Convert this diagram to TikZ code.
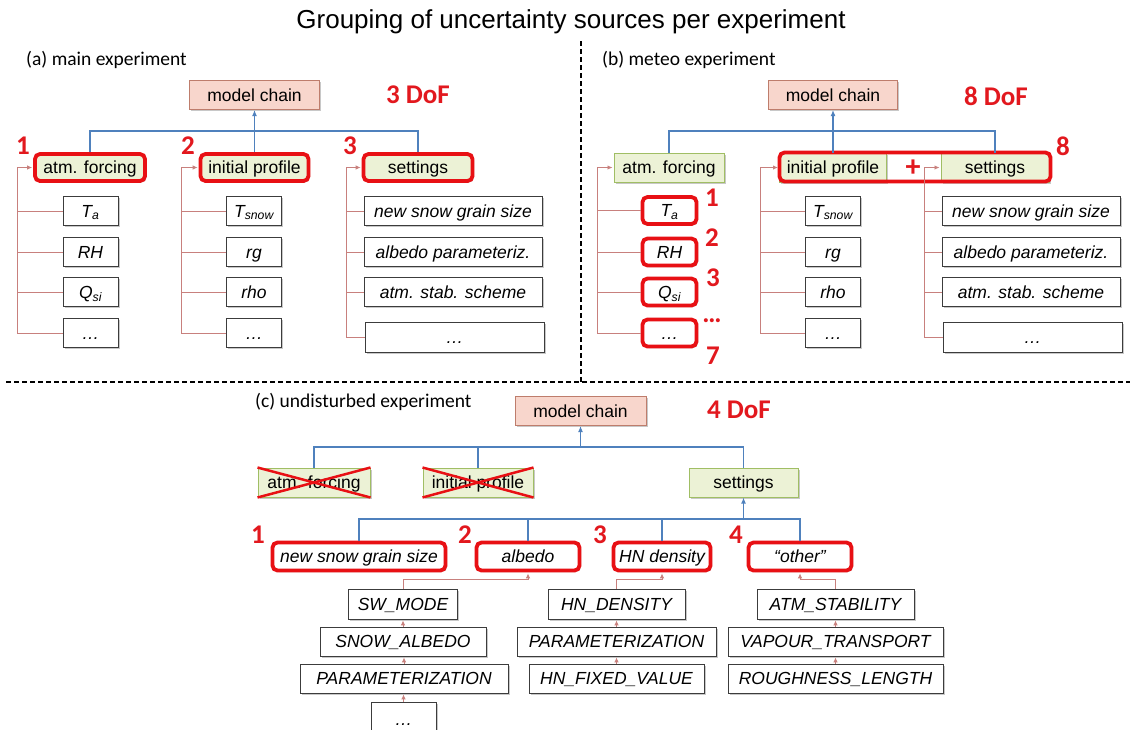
\documentclass[tikz,border=0pt]{standalone}
\usepackage{fontspec}
\setmainfont{Liberation Sans}
\newfontfamily\calib{Carlito}
\usetikzlibrary{arrows.meta,shadows}
\definecolor{hlred}{RGB}{232,16,20}
\definecolor{numred}{RGB}{226,24,30}
\definecolor{gfill}{RGB}{236,242,214}
\definecolor{gdraw}{RGB}{160,190,100}
\definecolor{mfill}{RGB}{248,214,204}
\definecolor{mdraw}{RGB}{190,125,108}
\definecolor{conncol}{RGB}{200,128,125}
\definecolor{buscol}{RGB}{79,129,189}
\definecolor{boxdraw}{RGB}{60,60,60}
\begin{document}
\begin{tikzpicture}[x=1pt,y=-1pt,
  font=\fontsize{17.5}{20}\selectfont,
  shad/.style={drop shadow={shadow xshift=1.5pt,shadow yshift=-1.5pt,opacity=0.3,fill=black!70}},
  basebox/.style={inner sep=0pt, minimum height=29pt, anchor=center, text height=12.5pt, text depth=0pt, shad},
  wbox/.style={basebox, fill=white, draw=boxdraw, line width=0.8pt, font=\fontsize{17.5}{20}\selectfont\itshape},
  gbox/.style={basebox, fill=gfill, draw=gdraw, line width=1pt},
  mbox/.style={basebox, fill=mfill, draw=mdraw, line width=1pt},
  hl/.style={draw=hlred, line width=3.8pt, rounded corners=5pt, minimum height=27pt},
  num/.style={font=\calib\bfseries\fontsize{27}{30}\selectfont, text=numred, inner sep=0pt},
  plab/.style={font=\calib\fontsize{19.5}{22}\selectfont, anchor=west, inner sep=0pt},
  conn/.style={draw=conncol, line width=0.9pt},
  carr/.style={conn, -{Latex[length=5pt,width=4.5pt]}, shorten >=1pt},
  bus/.style={draw=buscol, line width=1.4pt},
  barr/.style={bus, -{Latex[length=6pt,width=5pt]}},
  xline/.style={draw=hlred, line width=2.5pt},
  sep/.style={draw=black, line width=1.3pt, dash pattern=on 5pt off 3pt},
]
\clip (0,0) rectangle (1130,729);
\fill[white] (0,0) rectangle (1130,729);

% title and separators
\node[font=\fontsize{26}{30}\selectfont, inner sep=0pt] (title) at (571,22) {Grouping of uncertainty sources per experiment};
\coordinate (vT) at (581,41);
\coordinate (vB) at (581,382);
\coordinate (hL) at (6,382);
\coordinate (hR) at (1130,382);
\draw[sep] (vT) -- (vB);
\draw[sep] (hL) -- (hR);

\node[plab] (labA) at (26,60) {(a) main experiment};
\node[plab] (labB) at (602,60) {(b) meteo experiment};
\node[plab] (labC) at (255,402) {(c) undisturbed experiment};

% ================= (a) =================
\node[mbox, minimum width=130pt] (mcA) at (254.5,95) {model chain};
\node[num] (dofA) at (418,95) {3 DoF};
\node[gbox, hl, minimum width=110pt] (afA) at (90,167.5) {atm. forcing};
\node[gbox, hl, minimum width=108pt] (ipA) at (254.5,167.5) {initial profile};
\node[gbox, hl, minimum width=109pt] (stA) at (418,167.5) {settings};
\node[num] (nA1) at (23,146) {1};
\node[num] (nA2) at (188,146) {2};
\node[num] (nA3) at (350,146) {3};
\coordinate (busA) at (254.5,131);
\draw[bus] (afA.north) |- (busA) -| (stA.north);
\draw[bus] (ipA.north) -- (busA);
\draw[barr] (busA) -- (mcA.south);

\node[wbox, minimum width=55pt] (a11) at (90.5,211) {T\textsubscript{a}};
\node[wbox, minimum width=55pt] (a12) at (90.5,252) {RH};
\node[wbox, minimum width=55pt] (a13) at (90.5,292) {Q\textsubscript{si}};
\node[wbox, minimum width=55pt] (a14) at (90.5,333) {…};
\coordinate (spA1) at (17,167.5);
\draw[carr] (a14.west) -| (spA1) -- (afA.west);
\draw[conn] (a11.west) -- (a11.west -| spA1);
\draw[conn] (a12.west) -- (a12.west -| spA1);
\draw[conn] (a13.west) -- (a13.west -| spA1);

\node[wbox, minimum width=55pt] (a21) at (254,211) {T\textsubscript{snow}};
\node[wbox, minimum width=55pt] (a22) at (254,252) {rg};
\node[wbox, minimum width=55pt] (a23) at (254,292) {rho};
\node[wbox, minimum width=55pt] (a24) at (254,333) {…};
\coordinate (spA2) at (181,167.5);
\draw[carr] (a24.west) -| (spA2) -- (ipA.west);
\draw[conn] (a21.west) -- (a21.west -| spA2);
\draw[conn] (a22.west) -- (a22.west -| spA2);
\draw[conn] (a23.west) -- (a23.west -| spA2);

\node[wbox, minimum width=178pt] (a31) at (453,211) {new snow grain size};
\node[wbox, minimum width=178pt] (a32) at (453,252) {albedo parameteriz.};
\node[wbox, minimum width=178pt] (a33) at (453,292) {atm. stab. scheme};
\node[wbox, minimum width=179pt, minimum height=30pt] (a34) at (454.5,337) {…};
\coordinate (spA3) at (346,167.5);
\draw[carr] (a34.west) -| (spA3) -- (stA.west);
\draw[conn] (a31.west) -- (a31.west -| spA3);
\draw[conn] (a32.west) -- (a32.west -| spA3);
\draw[conn] (a33.west) -- (a33.west -| spA3);

% ================= (b) =================
\node[mbox, minimum width=129pt] (mcB) at (833,95) {model chain};
\node[num] (dofB) at (996,96) {8 DoF};
\node[gbox, minimum width=110pt] (afB) at (669,167.5) {atm. forcing};
\node[gbox, minimum width=107pt] (ipB) at (833,167.5) {initial profile};
\node[gbox, minimum width=108pt] (stB) at (995,167.5) {settings};
\node[hl, inner sep=0pt, minimum width=271pt, minimum height=29pt] (hlB) at (915,167) {};
\node[num, font=\calib\bfseries\fontsize{30}{30}\selectfont] (plusB) at (913,168) {+};
\node[num] (nB8) at (1063,146) {8};
\coordinate (busB) at (833,131);
\draw[bus] (afB.north) |- (busB) -| (stB.north);
\draw[bus] (ipB.north) -- (busB);
\draw[barr] (busB) -- (mcB.south);

\node[wbox, hl, minimum width=54pt] (b11) at (669.5,210.5) {T\textsubscript{a}};
\node[wbox, hl, minimum width=54pt] (b12) at (669.5,252) {RH};
\node[wbox, hl, minimum width=54pt] (b13) at (669.5,292) {Q\textsubscript{si}};
\node[wbox, hl, minimum width=54pt] (b14) at (669.5,333) {…};
\node[num] (nB1) at (712,198) {1};
\node[num] (nB2) at (712,238) {2};
\node[num] (nB3) at (713,278) {3};
\node[num] (nBd) at (712,321) {…};
\node[num] (nB7) at (713,356) {7};
\coordinate (spB1) at (597,167.5);
\draw[carr] (b14.west) -| (spB1) -- (afB.west);
\draw[conn] (b11.west) -- (b11.west -| spB1);
\draw[conn] (b12.west) -- (b12.west -| spB1);
\draw[conn] (b13.west) -- (b13.west -| spB1);

\node[wbox, minimum width=55pt] (b21) at (833,211) {T\textsubscript{snow}};
\node[wbox, minimum width=55pt] (b22) at (833,252) {rg};
\node[wbox, minimum width=55pt] (b23) at (833,292) {rho};
\node[wbox, minimum width=55pt] (b24) at (833,333) {…};
\coordinate (spB2) at (760,167.5);
\draw[carr] (b24.west) -| (spB2) -- (ipB.west);
\draw[conn] (b21.west) -- (b21.west -| spB2);
\draw[conn] (b22.west) -- (b22.west -| spB2);
\draw[conn] (b23.west) -- (b23.west -| spB2);

\node[wbox, minimum width=178pt] (b31) at (1031,211) {new snow grain size};
\node[wbox, minimum width=178pt] (b32) at (1031,252) {albedo parameteriz.};
\node[wbox, minimum width=178pt] (b33) at (1031,292) {atm. stab. scheme};
\node[wbox, minimum width=179pt, minimum height=30pt] (b34) at (1032.5,337) {…};
\coordinate (spB3) at (924,167.5);
\draw[carr] (b34.west) -| (spB3) -- (stB.west);
\draw[conn] (b31.west) -- (b31.west -| spB3);
\draw[conn] (b32.west) -- (b32.west -| spB3);
\draw[conn] (b33.west) -- (b33.west -| spB3);

% ================= (c) =================
\node[mbox, minimum width=131pt] (mcC) at (580.5,411) {model chain};
\node[num] (dofC) at (739,410) {4 DoF};
\node[gbox, minimum width=112pt] (afC) at (314,482.5) {atm. forcing};
\node[gbox, minimum width=110pt] (ipC) at (478,482.5) {initial profile};
\node[gbox, minimum width=109pt] (stC) at (743.5,482.5) {settings};
\draw[xline] (afC.north west) -- (afC.south east);
\draw[xline] (afC.south west) -- (afC.north east);
\draw[xline] (ipC.north west) -- (ipC.south east);
\draw[xline] (ipC.south west) -- (ipC.north east);
\coordinate (busC) at (580.5,447);
\draw[bus] (afC.north) |- (busC) -| (stC.north);
\draw[bus] (ipC.north) -- (ipC.north |- busC);
\draw[barr] (busC) -- (mcC.south);

\node[wbox, hl, minimum width=173pt, minimum height=28pt] (nsC) at (359,556.5) {new snow grain size};
\node[wbox, hl, minimum width=103pt, minimum height=28pt] (alC) at (528,556.5) {albedo};
\node[wbox, hl, minimum width=97pt, minimum height=28pt] (hnC) at (662,556.5) {HN density};
\node[wbox, hl, minimum width=103pt, minimum height=28pt] (otC) at (800,556.5) {“other”};
\node[num] (nC1) at (258,535) {1};
\node[num] (nC2) at (465,535) {2};
\node[num] (nC3) at (600,535) {3};
\node[num] (nC4) at (736,535) {4};
\coordinate (sbusC) at (743.5,519);
\draw[bus] (nsC.north) |- (sbusC) -| (otC.north);
\draw[bus] (alC.north) -- (alC.north |- sbusC);
\draw[bus] (hnC.north) -- (hnC.north |- sbusC);
\draw[barr] (sbusC) -- (stC.south);

% stacks
\node[wbox, minimum width=109pt, minimum height=30pt] (c11) at (403,604) {SW\_MODE};
\node[wbox, minimum width=166pt] (c12) at (403,641.5) {SNOW\_ALBEDO};
\node[wbox, minimum width=208pt] (c13) at (404,678.5) {PARAMETERIZATION};
\node[wbox, minimum width=65pt, minimum height=34pt] (c14) at (403.5,719) {…};
\draw[carr] (c11.north) -- ++(0,-9) -| (alC.south);
\draw[carr] (c12.north) -- (c11.south);
\draw[carr] (c13.north) -- (c13.north |- c12.south);
\draw[carr] (c14.north) -- (c14.north |- c13.south);

\node[wbox, minimum width=137pt, minimum height=30pt] (c21) at (616.5,604) {HN\_DENSITY};
\node[wbox, minimum width=199pt] (c22) at (616.5,641.5) {PARAMETERIZATION};
\node[wbox, minimum width=175pt] (c23) at (616.5,678.5) {HN\_FIXED\_VALUE};
\draw[carr] (c21.north) -- ++(0,-9) -| (hnC.south);
\draw[carr] (c22.north) -- (c21.south);
\draw[carr] (c23.north) -- (c22.south);

\node[wbox, minimum width=157pt, minimum height=30pt] (c31) at (835.5,604) {ATM\_STABILITY};
\node[wbox, minimum width=215pt] (c32) at (835.5,641.5) {VAPOUR\_TRANSPORT};
\node[wbox, minimum width=215pt] (c33) at (835.5,678.5) {ROUGHNESS\_LENGTH};
\draw[carr] (c31.north) -- ++(0,-9) -| (otC.south);
\draw[carr] (c32.north) -- (c31.south);
\draw[carr] (c33.north) -- (c32.south);
\end{tikzpicture}
\end{document}
